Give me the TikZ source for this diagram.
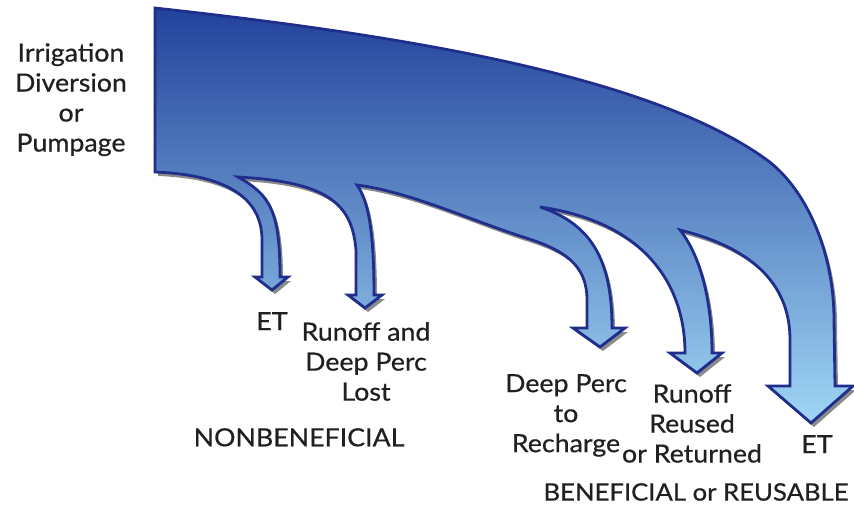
\documentclass[tikz,border=0pt]{standalone}
\usepackage{fontspec}
\setmainfont{Lato}[FakeStretch=1.07, FakeBold=0.6]
\definecolor{flowtop}{HTML}{22429B}
\definecolor{flowbot}{HTML}{A0D6F5}
\definecolor{flowline}{HTML}{1F2E8C}
\definecolor{shadowgray}{HTML}{8A8A8A}
\definecolor{txt}{HTML}{231F20}
\newcommand{\flowoutline}{%
  (155,8)
  .. controls (400,35) and (650,75) .. (767,160)
  .. controls (805,188) and (834,250) .. (834,320)
  -- (835,386) -- (853,386) -- (811,423) -- (768,386) -- (790,386)
  -- (790,340) .. controls (790,290) and (760,250) .. (680,230)
  .. controls (700,255) and (712,300) .. (712,353)
  -- (722,353) -- (697,373) -- (670,353) -- (685,353)
  .. controls (685,285) and (645,222) .. (540,207)
  .. controls (595,225) and (612,265) .. (612,328)
  -- (625,328) -- (600,347) -- (573,328) -- (587,328)
  -- (587,300) .. controls (587,265) and (565,250) .. (523,237)
  .. controls (470,220) and (410,192) .. (357,185)
  .. controls (368,200) and (374,230) .. (374,295)
  -- (382,295) -- (365,308) -- (348,295) -- (356,295)
  -- (356,250) .. controls (352,205) and (330,182) .. (238,177)
  .. controls (270,195) and (280,210) .. (280,277)
  -- (288,277) -- (272,290) -- (255,277) -- (262,277)
  -- (262,240) .. controls (262,200) and (230,175) .. (155,172)
  -- cycle}
\begin{document}
\begin{tikzpicture}[x=1pt,y=-1pt,
  flowshadow/.style={fill=shadowgray},
  flowbody/.style={draw=flowline, line width=2.8pt, top color=flowtop, bottom color=flowbot},
  lbl/.style={font=\fontsize{25}{30}\selectfont, text=txt, align=center, inner sep=0pt, anchor=north}]
\useasboundingbox (0,0) rectangle (854,505);
\fill[flowshadow, shift={(3,4)}] \flowoutline;
\path[flowbody] \flowoutline;
\node[lbl] (src) at (71,43) {Irrigation\\Diversion\\or\\Pumpage};
\node[lbl] (et1) at (272,312) {ET};
\node[lbl] (lost) at (366,322) {Runoff and\\Deep Perc\\Lost};
\node[lbl] (nonb) at (299,428) {NONBENEFICIAL};
\node[lbl] (rech) at (566,374) {Deep Perc\\to\\Recharge};
\node[lbl] (reuse) at (692,384) {Runoff\\Reused\\or Returned};
\node[lbl] (et2) at (817,435) {ET};
\node[lbl, font=\fontsize{24}{30}\selectfont] (ben) at (696,483) {BENEFICIAL or REUSABLE};
\end{tikzpicture}
\end{document}
